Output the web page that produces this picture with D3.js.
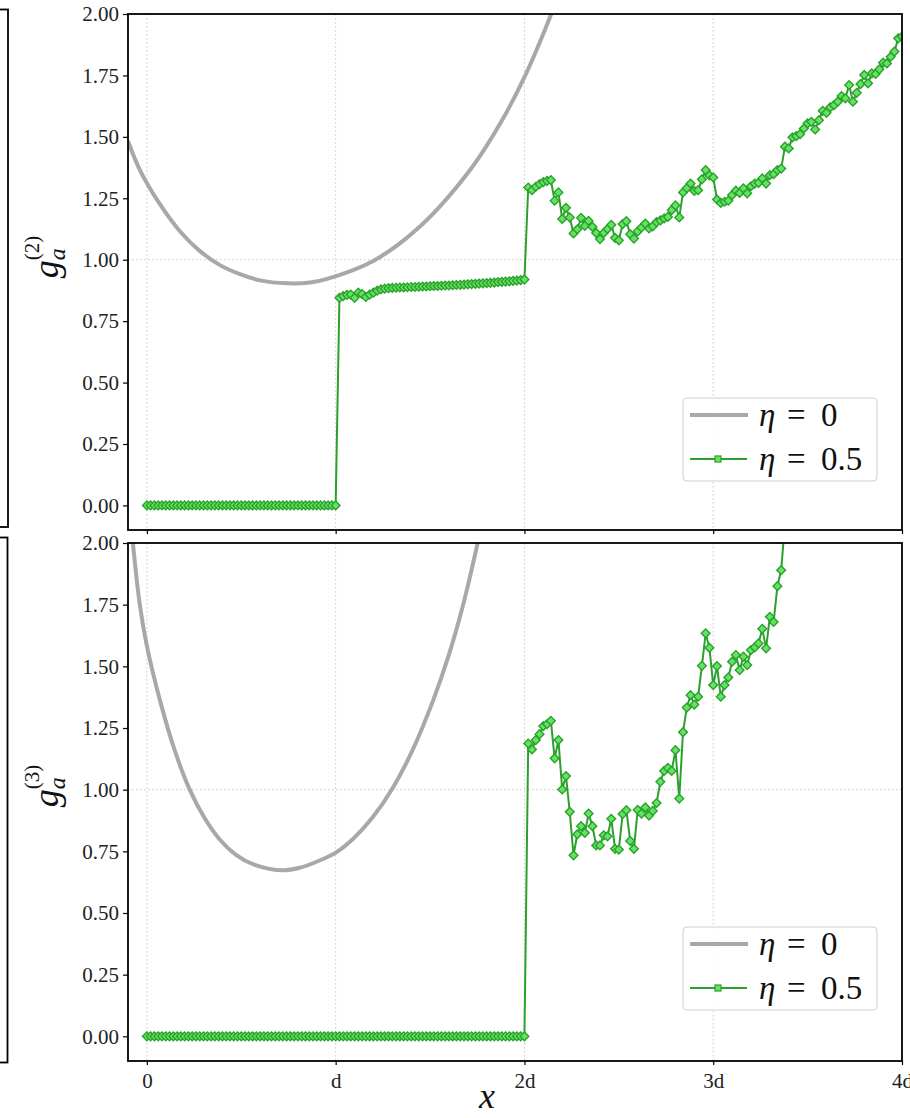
<!DOCTYPE html>
<html>
<head>
<meta charset="utf-8">
<script src="https://cdn.jsdelivr.net/npm/d3@7"></script>
<style>
  body { margin: 0; background: #fff; }
  svg, svg text { font-family: 'Liberation Serif', 'DejaVu Serif', serif; }
</style>
</head>
<body>
<div class="chart"></div>
<script>
// sampling step of the eta = 0.5 series, in units of d
var xStep = 0.02;

var xTicks = [0, 1, 2, 3, 4];
var xTickLabels = ["0", "d", "2d", "3d", "4d"];
var yTicks = [0, 0.25, 0.5, 0.75, 1.0, 1.25, 1.5, 1.75, 2.0];

// eta = 0 curve, panel g_a^(2)
var gray2X = [-0.1, -0.037, 0.069, 0.175, 0.281, 0.387, 0.493, 0.599, 0.743, 0.865, 0.955, 1.199, 1.448, 1.714, 1.873, 2.0, 2.143, 2.218];
var gray2Y = [1.483, 1.365, 1.226, 1.116, 1.035, 0.978, 0.941, 0.916, 0.904, 0.907, 0.922, 0.995, 1.136, 1.367, 1.556, 1.743, 2.002, 2.16];

// eta = 0 curve, panel g_a^(3)
var gray3X = [-0.1, -0.074, -0.037, 0, 0.069, 0.149, 0.228, 0.308, 0.387, 0.472, 0.562, 0.721, 0.812, 0.918, 1.003, 1.093, 1.194, 1.3, 1.406, 1.517, 1.597, 1.676, 1.751, 1.82];
var gray3Y = [2.243, 2.0, 1.748, 1.583, 1.363, 1.156, 0.998, 0.882, 0.797, 0.736, 0.698, 0.673, 0.684, 0.714, 0.746, 0.801, 0.886, 1.004, 1.158, 1.363, 1.54, 1.752, 1.996, 2.247];

// eta = 0.5 series, panel g_a^(2)
var green2 = [
  0, 0, 0, 0, 0, 0, 0, 0, 0, 0,
  0, 0, 0, 0, 0, 0, 0, 0, 0, 0,
  0, 0, 0, 0, 0, 0, 0, 0, 0, 0,
  0, 0, 0, 0, 0, 0, 0, 0, 0, 0,
  0, 0, 0, 0, 0, 0, 0, 0, 0, 0,
  0,
  0.845, 0.852, 0.857, 0.858, 0.845, 0.866, 0.860, 0.849, 0.858, 0.866,
  0.874, 0.879, 0.882, 0.884, 0.885, 0.886, 0.887, 0.887, 0.888, 0.889,
  0.889, 0.890, 0.891, 0.891, 0.892, 0.893, 0.893, 0.894, 0.895, 0.895,
  0.896, 0.897, 0.898, 0.899, 0.900, 0.901, 0.902, 0.903, 0.904, 0.905,
  0.906, 0.907, 0.909, 0.910, 0.911, 0.912, 0.914, 0.915, 0.917, 0.919,
  1.294, 1.283, 1.297, 1.308, 1.316, 1.321, 1.324, 1.240, 1.274, 1.166,
  1.211, 1.172, 1.107, 1.124, 1.170, 1.138, 1.158, 1.134, 1.109, 1.084,
  1.109, 1.125, 1.142, 1.089, 1.079, 1.145, 1.157, 1.104, 1.086, 1.115,
  1.131, 1.147, 1.127, 1.136, 1.153, 1.160, 1.168, 1.174, 1.202, 1.221,
  1.172, 1.274, 1.291, 1.310, 1.280, 1.283, 1.327, 1.365, 1.343, 1.335,
  1.245, 1.231, 1.236, 1.240, 1.263, 1.281, 1.272, 1.290, 1.270, 1.299,
  1.310, 1.313, 1.331, 1.310, 1.344, 1.348, 1.365, 1.371, 1.460, 1.453,
  1.498, 1.503, 1.511, 1.534, 1.555, 1.561, 1.530, 1.568, 1.606, 1.598,
  1.620, 1.629, 1.643, 1.666, 1.657, 1.711, 1.643, 1.679, 1.715, 1.752,
  1.718, 1.758, 1.756, 1.775, 1.802, 1.799, 1.826, 1.847, 1.901, 1.908
];

// eta = 0.5 series, panel g_a^(3)
var green3 = [
  0, 0, 0, 0, 0, 0, 0, 0, 0, 0,
  0, 0, 0, 0, 0, 0, 0, 0, 0, 0,
  0, 0, 0, 0, 0, 0, 0, 0, 0, 0,
  0, 0, 0, 0, 0, 0, 0, 0, 0, 0,
  0, 0, 0, 0, 0, 0, 0, 0, 0, 0,
  0, 0, 0, 0, 0, 0, 0, 0, 0, 0,
  0, 0, 0, 0, 0, 0, 0, 0, 0, 0,
  0, 0, 0, 0, 0, 0, 0, 0, 0, 0,
  0, 0, 0, 0, 0, 0, 0, 0, 0, 0,
  0, 0, 0, 0, 0, 0, 0, 0, 0, 0,
  0,
  1.187, 1.163, 1.201, 1.225, 1.258, 1.266, 1.279, 1.127, 1.201, 1.001,
  1.055, 0.910, 0.734, 0.819, 0.852, 0.825, 0.903, 0.852, 0.774, 0.774,
  0.815, 0.811, 0.882, 0.760, 0.757, 0.901, 0.917, 0.792, 0.760, 0.918,
  0.903, 0.928, 0.895, 0.914, 0.946, 1.032, 1.076, 1.088, 1.076, 1.160,
  0.964, 1.233, 1.333, 1.383, 1.345, 1.377, 1.502, 1.634, 1.575, 1.424,
  1.501, 1.377, 1.424, 1.455, 1.519, 1.546, 1.485, 1.539, 1.505, 1.566,
  1.577, 1.593, 1.652, 1.573, 1.701, 1.680, 1.825, 1.890,
  2.08, 2.2, 2.35
];

var legendLabels = [["η", "=", "0"], ["η", "=", "0.5"]];

var svgWidth = 910;
var svgHeight = 1118;

var serif = "'Liberation Serif', 'DejaVu Serif', serif";
var grayColor = "#a8a8a8";
var greenColor = "#2ca02c";
var greenFill = "#62e462";

var panels = [
  { id: "p2", sup: "(2)", top: 14, bottom: 530, grayX: gray2X, grayY: gray2Y, green: green2, xLabels: false },
  { id: "p3", sup: "(3)", top: 543, bottom: 1061, grayX: gray3X, grayY: gray3Y, green: green3, xLabels: true }
];

var plotLeft = 128;
var plotRight = 902;

var svg = d3.select(".chart")
  .append("svg")
  .attr("width", svgWidth)
  .attr("height", svgHeight);

// edges of the neighbouring panels, cropped at the left border
svg.append("rect")
  .attr("x", -20).attr("y", 9.5)
  .attr("width", 28).attr("height", 517.5)
  .attr("fill", "none").attr("stroke", "#000").attr("stroke-width", 1.8);
svg.append("rect")
  .attr("x", -20).attr("y", 537.5)
  .attr("width", 27.5).attr("height", 525)
  .attr("fill", "none").attr("stroke", "#000").attr("stroke-width", 1.8);

var xScale = d3.scaleLinear()
  .domain([-0.1, 4.0])
  .range([plotLeft, plotRight]);

panels.forEach(function (p) {
  var yScale = d3.scaleLinear()
    .domain([-0.1, 2.0])
    .range([p.bottom, p.top]);

  var g = svg.append("g").attr("class", p.id);

  g.append("clipPath")
    .attr("id", "clip-" + p.id)
    .append("rect")
    .attr("x", plotLeft).attr("y", p.top)
    .attr("width", plotRight - plotLeft).attr("height", p.bottom - p.top);

  // grid
  g.selectAll(".vgrid")
    .data(xTicks.slice(0, 4))
    .enter()
    .append("line")
    .attr("x1", d => xScale(d)).attr("x2", d => xScale(d))
    .attr("y1", p.top).attr("y2", p.bottom)
    .attr("stroke", "#c8c8c8").attr("stroke-width", 1)
    .attr("stroke-dasharray", "1.5,2.5");

  g.append("line")
    .attr("x1", plotLeft).attr("x2", plotRight)
    .attr("y1", yScale(1)).attr("y2", yScale(1))
    .attr("stroke", "#c8c8c8").attr("stroke-width", 1)
    .attr("stroke-dasharray", "1.5,2.5");

  var plot = g.append("g").attr("clip-path", "url(#clip-" + p.id + ")");

  // eta = 0
  var grayData = p.grayX.map((x, i) => [x, p.grayY[i]]);
  plot.append("path")
    .datum(grayData)
    .attr("fill", "none")
    .attr("stroke", grayColor)
    .attr("stroke-width", 4)
    .attr("d", d3.line()
      .x(d => xScale(d[0]))
      .y(d => yScale(d[1]))
      .curve(d3.curveCatmullRom.alpha(0.5)));

  // eta = 0.5
  var greenData = p.green.map((v, i) => [i * xStep, v]);
  plot.append("path")
    .datum(greenData)
    .attr("fill", "none")
    .attr("stroke", greenColor)
    .attr("stroke-width", 2)
    .attr("d", d3.line()
      .x(d => xScale(d[0]))
      .y(d => yScale(d[1])));

  plot.selectAll(".marker")
    .data(greenData)
    .enter()
    .append("path")
    .attr("class", "marker")
    .attr("d", d3.symbol().type(d3.symbolSquare).size(38))
    .attr("transform", d => `translate(${xScale(d[0])},${yScale(d[1])}) rotate(45)`)
    .attr("fill", greenFill)
    .attr("stroke", greenColor)
    .attr("stroke-width", 1.4);

  // axes
  var leftAxis = d3.axisLeft(yScale)
    .tickValues(yTicks)
    .tickFormat(d3.format(".2f"))
    .tickSize(5)
    .tickSizeOuter(0)
    .tickPadding(4);

  var yAxis = g.append("g")
    .attr("transform", `translate(${plotLeft},0)`)
    .call(leftAxis);
  yAxis.select(".domain").remove();
  yAxis.selectAll("line").attr("stroke", "#000").attr("stroke-width", 1.2);
  yAxis.selectAll("text")
    .style("font-family", serif)
    .style("font-size", "21px")
    .attr("fill", "#222");

  var bottomAxis = d3.axisBottom(xScale)
    .tickValues(xTicks)
    .tickFormat((d, i) => p.xLabels ? xTickLabels[i] : "")
    .tickSize(4)
    .tickSizeOuter(0)
    .tickPadding(8);

  var xAxis = g.append("g")
    .attr("transform", `translate(0,${p.bottom})`)
    .call(bottomAxis);
  xAxis.select(".domain").remove();
  xAxis.selectAll("line").attr("stroke", "#000").attr("stroke-width", 1.2);
  xAxis.selectAll("text")
    .style("font-family", serif)
    .style("font-size", "21px")
    .attr("fill", "#222");

  // frame
  g.append("rect")
    .attr("x", plotLeft).attr("y", p.top)
    .attr("width", plotRight - plotLeft).attr("height", p.bottom - p.top)
    .attr("fill", "none").attr("stroke", "#000").attr("stroke-width", 1.8);

  // y label g_a^(n)
  var cy = p.top + 243;
  var lab = g.append("text")
    .attr("transform", `translate(58,${cy}) rotate(-90)`)
    .attr("text-anchor", "middle")
    .style("font-family", serif)
    .attr("fill", "#111");
  lab.append("tspan")
    .attr("font-style", "italic").attr("font-size", 36)
    .text("g");
  lab.append("tspan")
    .attr("font-style", "italic").attr("font-size", 24)
    .attr("dy", 7)
    .text("a");
  lab.append("tspan")
    .attr("font-size", 21)
    .attr("dx", -12).attr("dy", -26)
    .text(p.sup);

  // legend
  var lx = 683, ly = p.top + 384;
  var leg = g.append("g");
  leg.append("rect")
    .attr("x", lx).attr("y", ly)
    .attr("width", 194).attr("height", 83)
    .attr("rx", 4)
    .attr("fill", "#fff").attr("fill-opacity", 0.8)
    .attr("stroke", "#d0d0d0").attr("stroke-width", 1);

  leg.append("line")
    .attr("x1", lx + 7).attr("x2", lx + 65)
    .attr("y1", ly + 17).attr("y2", ly + 17)
    .attr("stroke", grayColor).attr("stroke-width", 4);

  leg.append("line")
    .attr("x1", lx + 7).attr("x2", lx + 64)
    .attr("y1", ly + 61).attr("y2", ly + 61)
    .attr("stroke", greenColor).attr("stroke-width", 2);
  leg.append("rect")
    .attr("x", lx + 32).attr("y", ly + 58)
    .attr("width", 6).attr("height", 6)
    .attr("fill", greenFill).attr("stroke", greenColor).attr("stroke-width", 1.2);

  legendLabels.forEach(function (parts, k) {
    var by = ly + 28 + k * 44;
    leg.append("text")
      .attr("x", lx + 76).attr("y", by)
      .style("font-family", serif)
      .attr("font-style", "italic").attr("font-size", 33)
      .attr("fill", "#111")
      .text(parts[0]);
    leg.append("text")
      .attr("x", lx + 104).attr("y", by)
      .style("font-family", serif)
      .attr("font-size", 33)
      .attr("fill", "#111")
      .text(parts[1]);
    leg.append("text")
      .attr("x", lx + 138).attr("y", by)
      .style("font-family", serif)
      .attr("font-size", 33)
      .attr("fill", "#111")
      .text(parts[2]);
  });
});

// x label
svg.append("text")
  .attr("x", 487)
  .attr("y", 1108)
  .attr("text-anchor", "middle")
  .style("font-family", serif)
  .attr("font-style", "italic")
  .attr("font-size", 36)
  .attr("fill", "#111")
  .text("x");
</script>
</body>
</html>
